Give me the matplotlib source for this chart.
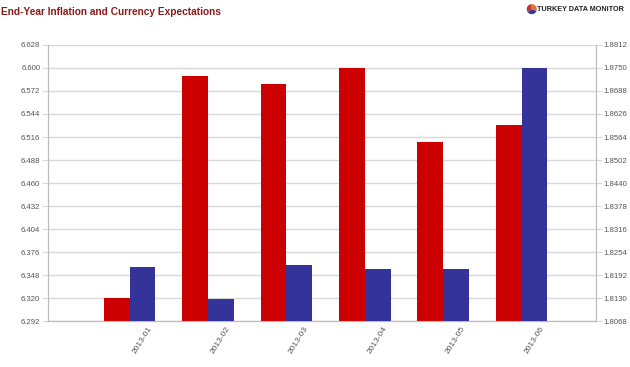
import matplotlib
matplotlib.use("Agg")
from matplotlib import pyplot as plt
import numpy as np

months = ["2013-01", "2013-02", "2013-03", "2013-04", "2013-05", "2013-06"]
inflation = [6.320, 6.590, 6.580, 6.600, 6.510, 6.531]
currency = [1.8213, 1.8128, 1.8219, 1.8207, 1.8207, 1.8750]

left_ticks = [6.292 + 0.028 * i for i in range(13)]
right_ticks = [1.8068 + 0.0062 * i for i in range(13)]

red = "#cc0000"
blue = "#333399"
grid_c = "#d9d9d9"
txt_c = "#555555"

plt.rcParams["font.family"] = ["Liberation Sans", "DejaVu Sans"]

fig = plt.figure(figsize=(6.3, 3.67), dpi=100)
ax = fig.add_axes([0.0762, 0.1253, 0.8700, 0.7521])
ax2 = ax.twinx()

x = np.arange(len(months))
w = 0.33
ax.bar(x - w / 2, inflation, w, color=red, zorder=3)
ax2.bar(x + w / 2, currency, w, color=blue, zorder=3)

ax.set_xlim(-1.04, 5.95)
ax.set_ylim(left_ticks[0], left_ticks[-1])
ax2.set_ylim(right_ticks[0], right_ticks[-1])
ax.set_yticks(left_ticks)
ax.set_yticklabels([f"{v:.3f}" for v in left_ticks])
ax2.set_yticks(right_ticks)
ax2.set_yticklabels([f"{v:.4f}" for v in right_ticks])

# labels sit a bit right of the category centre
ax.set_xticks(x + 0.16)
ax.set_xticklabels(months, rotation=58, ha="center")

ax.grid(axis="y", color=grid_c, linewidth=1, zorder=0)
ax.set_axisbelow(True)
for a in (ax, ax2):
    for s in a.spines.values():
        s.set_color("#bbbbbb")
        s.set_linewidth(0.8)
    a.tick_params(axis="y", colors=grid_c, labelcolor=txt_c, labelsize=5.6, length=4, pad=1.5)
ax.spines["top"].set_visible(False)
ax2.spines["top"].set_visible(False)
ax.tick_params(axis="x", length=0, labelcolor=txt_c, labelsize=6, pad=3)

fig.text(0.002, 0.967, "End-Year Inflation and Currency Expectations",
         color="#8b1a1a", fontsize=7.3, fontweight="bold",
         va="center", ha="left")

fig.text(0.99, 0.975, "TURKEY DATA MONITOR", color="#222222", fontsize=5.2,
         fontweight="bold", va="center", ha="right")
lax = fig.add_axes([0.834, 0.955, 0.02, 0.04])
lax.pie([0.35, 0.35, 0.3], colors=["#c0392b", "#3a3a8c", "#e07040"], startangle=90)
lax.set_aspect("equal")
lax.axis("off")

fig.savefig("out.png", dpi=100)
